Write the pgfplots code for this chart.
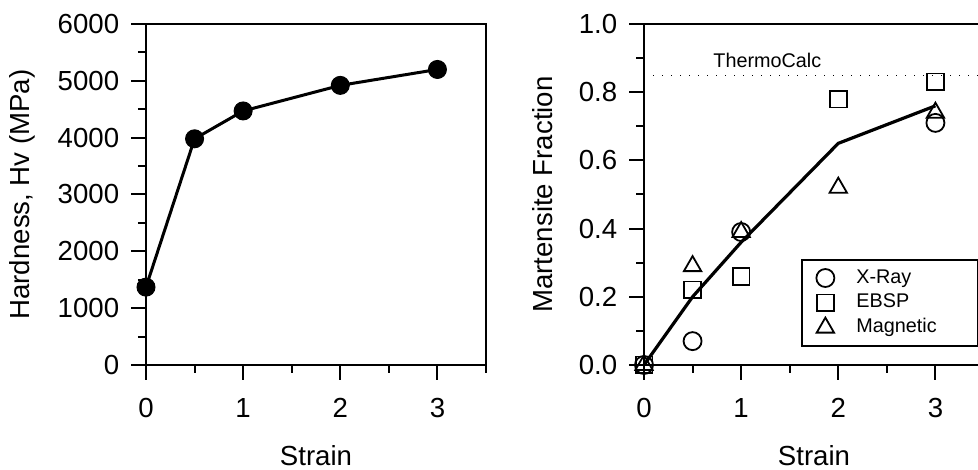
\documentclass[border=0pt]{standalone}
\usepackage{fontspec}
\setmainfont{Liberation Sans}
\usepackage{pgfplots}
\pgfplotsset{compat=1.18}

\newcommand{\bigfnt}{\fontsize{13.8}{16}\selectfont}
\newcommand{\legfnt}{\fontsize{9.9}{12}\selectfont}

\pgfplotsset{
  panel/.style={
    scale only axis, width=170pt, height=170.5pt,
    xmin=0, xmax=3.5,
    xtick={0,1,2,3}, minor xtick={0.5,1.5,2.5,3.5},
    tick align=outside, tick pos=left,
    major tick length=7.3pt, minor tick length=4pt,
    axis line style={line width=1.4pt},
    tick style={black, line width=1pt},
    tick label style={font=\bigfnt},
    label style={font=\bigfnt},
    xticklabel style={yshift=-5.9pt},
    yticklabel style={xshift=-2.6pt},
    /pgf/number format/assume math mode=true,
    xlabel style={at={([yshift=-45.5pt]axis description cs:0.5,0)}, anchor=center},
    clip=false,
  },
  markleg/.style={legend image code/.code={
                  \path[draw=none,fill=none] (0pt,0pt) rectangle (21pt,0pt);
                  \draw[##1] plot coordinates {(7.5pt,0pt)};}},
}

\begin{document}
\begin{tikzpicture}
\begin{axis}[panel, at={(0,0)}, anchor=south west,
    ymin=0, ymax=6000, ytick={0,1000,2000,3000,4000,5000,6000}, minor y tick num=1,
    /pgf/number format/set thousands separator={},
    xlabel={Strain}, ylabel={Hardness, Hv (MPa)},
    ylabel style={at={([xshift=-62pt]axis description cs:0,0.5)}, anchor=center}]
  \addplot[black, line width=1.5pt, mark=*, mark size=4.5pt,
           mark options={solid, line width=0.5pt, fill=black}]
    coordinates {(0,1370) (0.5,3980) (1,4470) (2,4920) (3,5200)};
\end{axis}

\begin{axis}[panel, at={(249pt,0)}, anchor=south west,
    ymin=0, ymax=1, ytick={0,0.2,0.4,0.6,0.8,1.0}, minor y tick num=1,
    yticklabel style={/pgf/number format/fixed, /pgf/number format/fixed zerofill,
                      /pgf/number format/precision=1},
    xlabel={Strain}, ylabel={Martensite Fraction},
    ylabel style={at={([xshift=-50.5pt]axis description cs:0,0.5)}, anchor=center},
    legend cell align=left,
    legend style={at={(axis cs:1.62,0.312)}, anchor=north west, draw=black,
                  line width=1pt, font=\legfnt, inner xsep=4pt, inner ysep=3pt,
                  row sep=0pt,
                  nodes={inner ysep=1.5pt, text height=7.2pt, text depth=2.2pt}}]
  \addplot[black, dash pattern=on 0.7pt off 3.8pt, line width=0.6pt, forget plot]
    coordinates {(0,0.85) (3.5,0.85)};
  \addplot[black, line width=1.6pt, forget plot]
    coordinates {(0,0) (0.5,0.2) (1,0.36) (2,0.65) (3,0.76)};
  \addplot[black, only marks, markleg, mark=o, mark size=4.5pt, mark options={line width=0.9pt}]
    coordinates {(0,0) (0.5,0.07) (1,0.39) (3,0.71)};
  \addlegendentry{X-Ray\hspace*{27.5pt}}
  \addplot[black, only marks, markleg, mark=square, mark size=4.2pt, mark options={line width=0.9pt}]
    coordinates {(0,0) (0.5,0.22) (1,0.26) (2,0.78) (3,0.83)};
  \addlegendentry{EBSP}
  \addplot[black, only marks, markleg, mark=triangle, mark size=5pt, mark options={line width=0.9pt}]
    coordinates {(0,0) (0.5,0.29) (1,0.39) (2,0.52) (3,0.74)};
  \addlegendentry{Magnetic}
  \node[font=\legfnt] at (axis cs:1.27,0.894) {ThermoCalc};
\end{axis}
\pgfresetboundingbox
\useasboundingbox (-73pt,-52.5pt) rectangle (416pt,182.5pt);
\end{tikzpicture}
\end{document}
